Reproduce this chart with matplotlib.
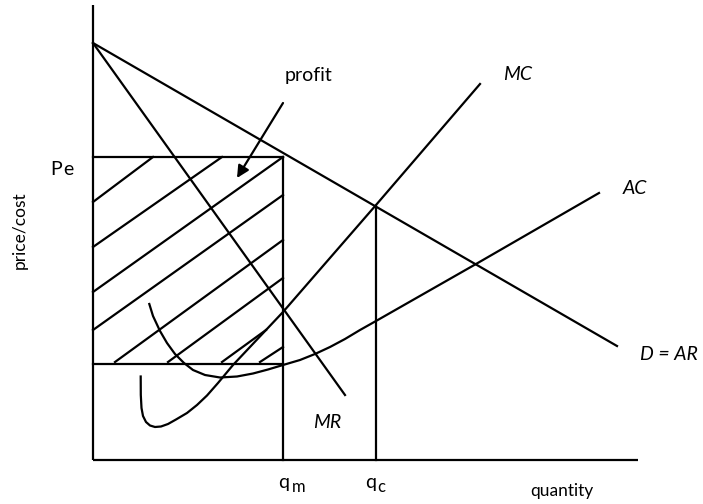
import matplotlib
matplotlib.use("Agg")
import matplotlib.pyplot as plt

plt.rcParams['font.family'] = ['Lato', 'DejaVu Sans']

# monopoly diagram, units are arbitrary quantity / price
q_max = 545
p_max = 455

# demand (= average revenue) and marginal revenue
demand_q = [0, 524]
demand_p = [417, 114]
mr_q = [0, 252]
mr_p = [417, 65]

# marginal cost curve
mc_q = [47.7, 47.8, 48.5, 50, 53, 57, 62, 68, 75, 83, 94, 104, 114, 125, 140, 190, 283, 387]
mc_p = [83.5, 65, 52, 44, 38, 34.5, 33, 33.5, 36, 40.5, 47, 55, 64.5, 77, 95, 148, 255, 376]

# average cost curve
ac_q = [56.3, 60, 67, 74, 82, 91, 100, 112, 127, 144, 160, 175, 190, 207, 222, 237, 252, 267, 283, 383, 506]
ac_p = [156, 144, 129, 117, 106, 97, 90, 85, 82.5, 83.5, 86.5, 90.5, 95, 100, 106, 113, 121, 130, 139, 196, 267]

# monopoly output / price, competitive output
q_m = 190
p_e = 303
ac_m = 96
q_c = 283
p_c = 254

# hatching of the profit area (start q, start p, end q, end p)
hatch_q0 = [0, 0, 0, 0, 22, 75, 129, 167]
hatch_p0 = [258, 213, 168, 130, 98, 98, 98, 98]
hatch_q1 = [60, 129, 190, 190, 190, 190, 173, 190]
hatch_p1 = [303, 303, 303, 265, 220, 182, 130, 113]

fig = plt.figure(figsize=(7.03, 5.04), dpi=100)
ax = fig.add_axes([0, 0, 1, 1])
ax.set_xlim(-93, 610)
ax.set_ylim(-44, 460)
ax.axis('off')

lw = 1.6
k = 'black'

# axes
ax.plot([0, 0], [0, p_max], color=k, lw=lw, solid_capstyle='butt')
ax.plot([0, q_max], [0, 0], color=k, lw=lw, solid_capstyle='butt')

# curves
ax.plot(demand_q, demand_p, color=k, lw=lw)
ax.plot(mr_q, mr_p, color=k, lw=lw)
ax.plot(mc_q, mc_p, color=k, lw=lw, solid_joinstyle='round')
ax.plot(ac_q, ac_p, color=k, lw=lw, solid_joinstyle='round')

# profit rectangle and guide lines
ax.plot([0, q_m], [p_e, p_e], color=k, lw=lw)
ax.plot([0, q_m], [ac_m, ac_m], color=k, lw=lw)
ax.plot([q_m, q_m], [0, p_e], color=k, lw=lw)
ax.plot([q_c, q_c], [0, p_c], color=k, lw=lw)

for i in range(len(hatch_q0)):
    ax.plot([hatch_q0[i], hatch_q1[i]], [hatch_p0[i], hatch_p1[i]], color=k, lw=lw)

# labels
ax.annotate("", xy=(144, 282), xytext=(190, 357),
            arrowprops=dict(arrowstyle="-|>", color=k, lw=lw, mutation_scale=18,
                            shrinkA=0, shrinkB=0))
ax.text(192, 384.5, "profit", fontsize=14, ha='left', va='center')
ax.text(410, 385.5, "MC", fontsize=14, style='italic', ha='left', va='center')
ax.text(530, 271.5, "AC", fontsize=14, style='italic', ha='left', va='center')
ax.text(547, 105.5, "D = AR", fontsize=14, style='italic', ha='left', va='center')
ax.text(220, 37.5, "MR", fontsize=14, style='italic', ha='left', va='center')

ax.text(-43, 285, "P", fontsize=14, ha='left', va='baseline')
ax.text(-30, 285, "e", fontsize=14, ha='left', va='baseline')
ax.text(185, -28, "q", fontsize=14, ha='left', va='baseline')
ax.text(199, -32, "m", fontsize=12, ha='left', va='baseline')
ax.text(272, -28, "q", fontsize=14, ha='left', va='baseline')
ax.text(284, -32, "c", fontsize=12, ha='left', va='baseline')

ax.text(437, -36, "quantity", fontsize=12.5, ha='left', va='baseline')
ax.text(-73, 230, "price/cost", fontsize=12.5, rotation=90, ha='center', va='center')

plt.savefig("out.png", dpi=100)
